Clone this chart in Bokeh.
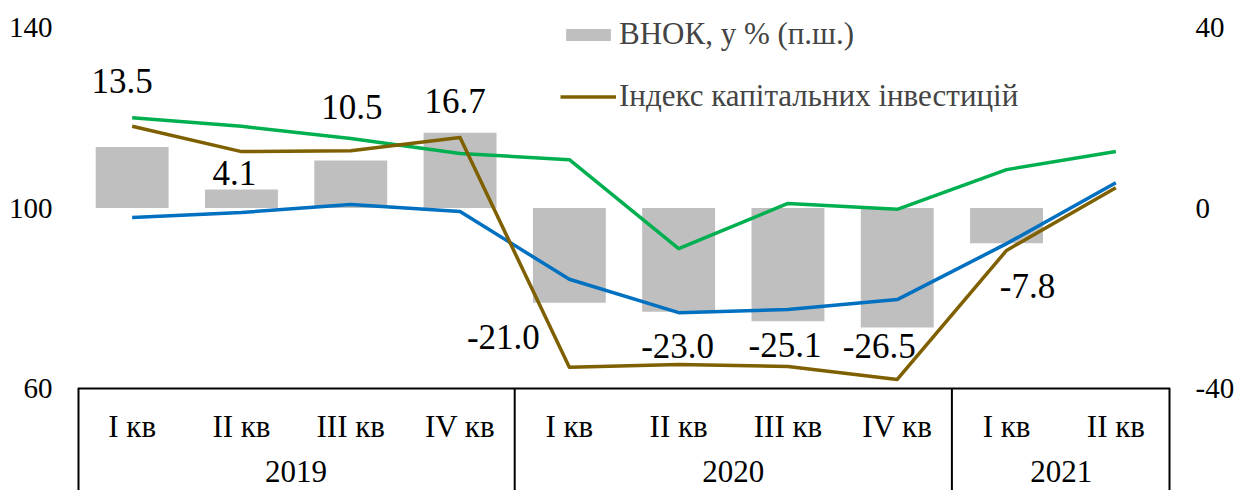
from bokeh.plotting import figure
from bokeh.models import (Range1d, LinearAxis, FactorRange, FixedTicker,
                          ColumnDataSource, Legend, LegendItem, Span)
from bokeh.transform import dodge
from bokeh.core.properties import value
from bokeh.embed import file_html
from bokeh.resources import INLINE

# ---------------- data ----------------
years = ["2019", "2019", "2019", "2019", "2020", "2020", "2020", "2020", "2021", "2021"]
quarters = ["I кв", "II кв", "III кв", "IV кв", "I кв", "II кв", "III кв", "IV кв", "I кв", "II кв"]
year_groups = ["2019", "2020", "2021"]
vnok = [13.5, 4.1, 10.5, 16.7, -21.0, -23.0, -25.1, -26.5, -7.8]
cap_invest_index = [118.1, 112.5, 112.7, 115.6, 64.7, 65.3, 64.9, 62.0, 90.6, 104.5]
blue_series = [97.9, 99.0, 100.8, 99.2, 84.2, 76.8, 77.5, 79.7, 92.1, 105.6]
green_series = [120.0, 118.1, 115.4, 112.1, 110.7, 91.0, 101.0, 99.7, 108.5, 112.5]
left_ticks = [60, 100, 140]
right_ticks = [-40, 0, 40]

# label nudges (pixels) for the bar value labels
label_dx = [-10, -7, 1, -5, -66, -1, -3, -18, 21]
label_dy = [-66, -16, -54, -32, 34, 34, 24, 18, 43]

# ---------------- layout ----------------
W, H = 1237, 490
FRAME_L, FRAME_R = 77, 65
Y_TOP_TICK, Y_BOT_TICK = 27, 388          # screen y of 140 and 60
ppu = (Y_BOT_TICK - Y_TOP_TICK) / (left_ticks[-1] - left_ticks[0])
y_top = left_ticks[-1] + Y_TOP_TICK / ppu
y_bot = left_ticks[0] - (H - Y_BOT_TICK) / ppu
shift = 100 - 0

factors = list(zip(years, quarters))
serif = "Liberation Serif"

p = figure(width=W, height=H, title=None,
           x_range=FactorRange(factors=factors, factor_padding=0,
                               group_padding=0, subgroup_padding=0),
           y_range=Range1d(y_bot, y_top),
           x_axis_location=None, output_backend="svg", toolbar_location=None,
           min_border_left=FRAME_L, min_border_right=FRAME_R,
           min_border_top=0, min_border_bottom=0)
p.outline_line_color = None
p.xgrid.visible = False
p.ygrid.visible = False

p.extra_y_ranges = {"right": Range1d(y_bot - shift, y_top - shift)}

def style_axis(ax, ticks, standoff):
    ax.ticker = FixedTicker(ticks=ticks)
    ax.major_label_overrides = {t: str(t) for t in ticks}
    ax.axis_line_color = None
    ax.major_tick_line_color = None
    ax.minor_tick_line_color = None
    ax.major_tick_out = 0
    ax.major_tick_in = 0
    ax.minor_tick_out = 0
    ax.minor_tick_in = 0
    ax.major_label_text_font = serif
    ax.major_label_text_font_size = "29px"
    ax.major_label_text_color = "black"
    ax.major_label_standoff = standoff

style_axis(p.yaxis[0], left_ticks, 25)
raxis = LinearAxis(y_range_name="right")
style_axis(raxis, right_ticks, 25)
p.add_layout(raxis, "right")

# bars
bars = p.vbar(x=factors[:len(vnok)], top=vnok, bottom=0, width=0.667,
              y_range_name="right", fill_color="#BFBFBF", line_color=None)

# lines
blue = p.line(x=factors, y=blue_series, line_color="#0070C0", line_width=3.5, line_join="round")
green = p.line(x=factors, y=green_series, line_color="#00B050", line_width=3.5, line_join="round")
brown = p.line(x=factors, y=cap_invest_index, line_color="#7F6000", line_width=3.5, line_join="round")

# bar value labels
p.text(x=factors[:len(vnok)], y=vnok, text=[f"{v:.1f}" for v in vnok],
       y_range_name="right", x_offset=label_dx, y_offset=label_dy,
       text_align="center", text_baseline="middle",
       text_font=value(serif), text_font_size="35px", text_color="black")

# category table
p.add_layout(Span(location=left_ticks[0], dimension="width",
                  line_color="black", line_width=2))
p.text(x=factors, y=left_ticks[0], text=quarters, y_offset=38,
       text_align="center", text_baseline="middle",
       text_font=value(serif), text_font_size="31px", text_color="black")
p.text(x=year_groups, y=left_ticks[0], text=year_groups, y_offset=83,
       text_align="center", text_baseline="middle",
       text_font=value(serif), text_font_size="31px", text_color="black")

mid_src = ColumnDataSource(dict(x=[f for f in factors if f[1] == "I кв"][1:]))
p.segment(x0=dodge("x", -0.5, range=p.x_range), x1=dodge("x", -0.5, range=p.x_range),
          y0=left_ticks[0], y1=y_bot - 5, source=mid_src, line_color="black", line_width=2)
left_src = ColumnDataSource(dict(x=[factors[0]]))
p.segment(x0=dodge("x", -0.5, range=p.x_range), x1=dodge("x", -0.5, range=p.x_range),
          y0=left_ticks[0], y1=y_bot - 5, source=left_src, line_color="black", line_width=4)
right_src = ColumnDataSource(dict(x=[factors[-1]]))
p.segment(x0=dodge("x", 0.5, range=p.x_range), x1=dodge("x", 0.5, range=p.x_range),
          y0=left_ticks[0], y1=y_bot - 5, source=right_src, line_color="black", line_width=4)

legend = Legend(items=[LegendItem(label="ВНОК, у % (п.ш.)", renderers=[bars]),
                       LegendItem(label="Індекс капітальних інвестицій", renderers=[brown])],
                location=(483, 376), orientation="vertical",
                label_text_font=serif, label_text_font_size="31px",
                glyph_width=56, glyph_height=15, label_standoff=3, spacing=26,
                padding=0, margin=0, border_line_color=None,
                background_fill_alpha=0)
p.add_layout(legend)

open("out.html", "w").write(file_html(p, INLINE))
